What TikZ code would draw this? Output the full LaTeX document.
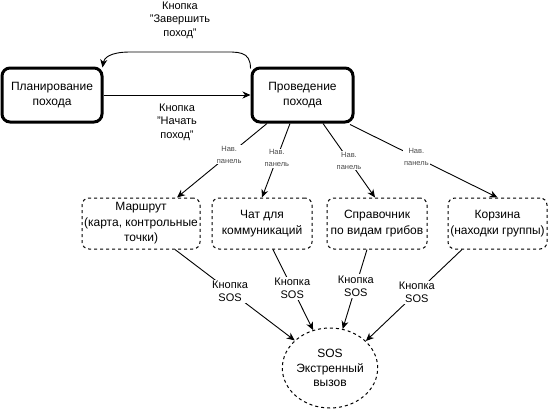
\documentclass[tikz,border=0pt]{standalone}
\usepackage{fontspec}
\setmainfont{Liberation Sans}
\usetikzlibrary{arrows.meta,shapes.geometric,calc}
\tikzset{
  mainbox/.style={draw, line width=3pt, rounded corners=8pt, minimum width=100pt, minimum height=54pt, align=center, font=\fontsize{12}{15}\selectfont, inner sep=0pt},
  subbox/.style={draw, line width=1pt, dash pattern=on 3pt off 3pt, rounded corners=7pt, minimum height=51pt, align=center, font=\fontsize{12}{15.5}\selectfont, inner sep=0pt},
  sosnode/.style={draw, ellipse, line width=1pt, dash pattern=on 3pt off 3pt, minimum width=84pt, minimum height=80pt, align=center, font=\fontsize{12}{14.5}\selectfont, inner sep=0pt},
  conn/.style={line width=0.9pt, -{Stealth[length=8pt,width=7pt,inset=2.5pt]}},
  lbl/.style={align=center, font=\fontsize{11}{13.5}\selectfont, inner sep=1pt},
  navlbl/.style={fill=white, align=center, text=black!70, font=\fontsize{7.5}{12}\selectfont, inner sep=1pt},
  soslbl/.style={fill=white, align=center, font=\fontsize{11}{13.5}\selectfont, inner sep=1pt},
}
\begin{document}
\begin{tikzpicture}[x=1pt,y=-1pt]
\useasboundingbox (0,0) rectangle (549,410);
\node[mainbox] (plan) at (52,95) {Планирование\\похода};
\node[mainbox, minimum width=101pt] (cond) at (302.5,95) {Проведение\\похода};
\node[subbox, minimum width=118pt] (route) at (141,223.5) {Маршрут\\(карта, контрольные\\точки)};
\node[subbox, minimum width=100pt] (chat) at (262,223.5) {Чат для\\коммуникаций};
\node[subbox, minimum width=100pt] (guide) at (377,223.5) {Справочник\\по видам грибов};
\node[subbox, minimum width=99pt] (basket) at (497.5,223.5) {Корзина\\(находки группы)};
\node[sosnode] (sos) at (330,368) {SOS\\Экстренный\\вызов};

% plan -> cond
\draw[conn] (plan.east) -- (cond.west);
\node[lbl] (lstart) at (177,122) {Кнопка\\"Начать\\поход"};

% cond -> plan (curved back)
\coordinate (c1) at (220,52);
\coordinate (c2) at (130,52);
\draw[conn] ([yshift=-2pt]cond.north west) .. controls +(0,-18) and (238,52) .. (c1) -- (c2) .. controls (110,52) and (104,58) .. ([xshift=-1pt,yshift=-1pt]plan.north east);
\node[lbl] (lend) at (180,20) {Кнопка\\"Завершить\\поход"};

% navigation arrows
\draw[conn] ([xshift=-35.5pt]cond.south) -- node[navlbl, pos=0.42] {Нав.\\панель} ([xshift=36pt]route.north);
\draw[conn] ([xshift=-12.5pt]cond.south) -- node[navlbl, pos=0.47] {Нав.\\панель} (chat.north);
\draw[conn] ([xshift=20.5pt]cond.south) -- node[navlbl, pos=0.5] {Нав.\\панель} ([xshift=-2pt]guide.north);
\draw[conn] ([xshift=47.5pt,yshift=-1pt]cond.south) -- node[navlbl, pos=0.45] {Нав.\\панель} (basket.north);

% SOS arrows
\draw[conn] ([xshift=34pt]route.south) -- node[soslbl, pos=0.46] {Кнопка\\SOS} (sos.142);
\draw[conn] ([xshift=11pt]chat.south) -- node[soslbl, pos=0.48] {Кнопка\\SOS} (sos.114);
\draw[conn] ([xshift=-10pt]guide.south) -- node[soslbl, pos=0.46] {Кнопка\\SOS} (sos.72);
\draw[conn] ([xshift=-35.5pt]basket.south) -- node[soslbl, pos=0.47] {Кнопка\\SOS} (sos.37);
\end{tikzpicture}
\end{document}
